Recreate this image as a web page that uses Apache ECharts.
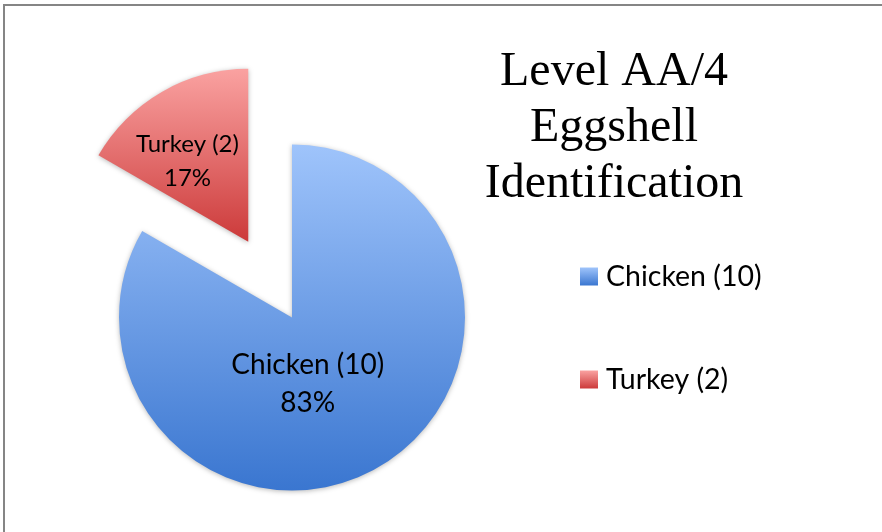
<!DOCTYPE html>
<html>
<head>
<meta charset="utf-8">
<script src="https://cdn.jsdelivr.net/npm/echarts@6/dist/echarts.min.js"></script>
<style>
  html, body { margin: 0; padding: 0; background: #ffffff; }
  #chart { width: 882px; height: 532px; }
</style>
</head>
<body>
<div id="chart"></div>
<script>
// Eggshell identification results
const categories = ['Chicken', 'Turkey'];
const counts = [10, 2];
const titleLines = ['Level AA/4', 'Eggshell', 'Identification'];
const explodedCategory = 'Turkey';

// Slice fills: light at the top, darker toward the bottom
const sliceColors = {
  Chicken: ['#9fc4fb', '#3a76d0'],
  Turkey: ['#faa2a1', '#cc3a3a']
};
const labelFontSizes = { Chicken: 28, Turkey: 24 };
const labelLineHeights = { Chicken: 38, Turkey: 34 };
const labelOffsets = { Chicken: [-29, -11], Turkey: [-16, -3] };

function gradient(pair) {
  return new echarts.graphic.LinearGradient(0, 0, 0, 1, [
    { offset: 0, color: pair[0] },
    { offset: 1, color: pair[1] }
  ]);
}

function withCount(name) {
  return name + ' (' + counts[categories.indexOf(name)] + ')';
}

const pieData = categories.map((name, i) => {
  const labelStyle = {
    fontSize: labelFontSizes[name],
    lineHeight: labelLineHeights[name],
    offset: labelOffsets[name]
  };
  return {
    name: name,
    value: counts[i],
    selected: name === explodedCategory,
    itemStyle: { color: gradient(sliceColors[name]) },
    label: labelStyle,
    select: { label: labelStyle }
  };
});

const chart = echarts.init(document.getElementById('chart'), null, { renderer: 'canvas' });

chart.setOption({
  animation: false,
  backgroundColor: '#ffffff',
  graphic: [{
    type: 'rect',
    z: -10,
    silent: true,
    shape: { x: 4, y: 5, width: 1000, height: 700 },
    style: { fill: 'none', stroke: '#858585', lineWidth: 2 }
  }],
  title: {
    text: titleLines.join('\n'),
    left: 614,
    top: 44,
    textAlign: 'center',
    padding: 0,
    textStyle: {
      fontFamily: 'Liberation Serif',
      fontSize: 48,
      lineHeight: 56,
      fontWeight: 'normal',
      color: '#000000'
    }
  },
  legend: {
    orient: 'vertical',
    left: 580,
    top: 262,
    padding: 0,
    itemWidth: 18,
    itemHeight: 18,
    itemGap: 74,
    icon: 'rect',
    selectedMode: false,
    data: categories,
    formatter: withCount,
    textStyle: {
      fontFamily: 'Lato',
      fontSize: 28.5,
      lineHeight: 18,
      color: '#000000',
      padding: [0, 0, 0, 3]
    }
  },
  series: [{
    type: 'pie',
    center: [292, 317.5],
    radius: [0, 173],
    startAngle: 90,
    clockwise: true,
    selectedMode: 'single',
    selectedOffset: 87.5,
    avoidLabelOverlap: false,
    emphasis: { disabled: true },
    itemStyle: {
      shadowBlur: 5,
      shadowColor: 'rgba(0,0,0,0.28)',
      shadowOffsetX: 0,
      shadowOffsetY: 1
    },
    label: {
      show: true,
      position: 'inside',
      fontFamily: 'Lato',
      color: '#000000',
      formatter: p => withCount(p.name) + '\n' + Math.round(p.percent) + '%'
    },
    labelLine: { show: false },
    data: pieData
  }]
});
</script>
</body>
</html>
